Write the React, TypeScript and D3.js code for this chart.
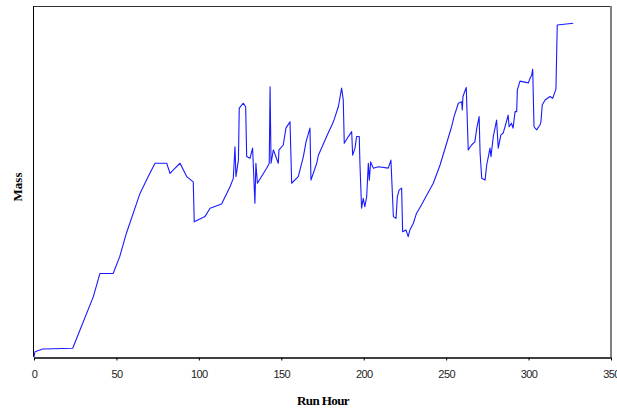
import * as d3 from "d3";
import { useEffect, useRef } from "react";

// run hours and mass readings (mass in relative units, 0..100)
const hours = [
  0, 0.6, 5.3, 23.5, 27.9, 36, 40, 48, 52, 56, 64.3, 69.3, 73.4, 80.5, 82.5, 84.5, 88.6, 92.6, 96.6,
  97.2, 103.7, 106.8, 113.8, 118.9, 120.9, 121.9, 122.5, 124, 124.5, 127, 128.4, 129, 131, 132.6,
  134, 134.6, 135.5, 141.1, 142.7, 143.2, 143.8, 145.2, 148.2, 148.6, 151.2, 152.8, 155.3, 156.3,
  160.3, 163.4, 165, 167.4, 168, 171.5, 172.5, 177.5, 181.6, 184.6, 186.6, 187.6, 188.2, 190.7,
  192.7, 193.3, 194.7, 195.7, 197.3, 197.7, 198.7, 199.7, 200.7, 201.8, 202.8, 203.4, 204.2, 205.8,
  208.8, 214.9, 216.5, 218, 219.6, 220.4, 221.5, 223, 223.6, 225.6, 227, 228, 230.1, 232, 235,
  237.2, 242.2, 246.3, 250.3, 253.3, 254.8, 257.4, 259.4, 259.8, 260.2, 262.2, 263.4, 265.4, 267.4,
  268.6, 270, 270.6, 271.6, 273.6, 274.6, 275.6, 276.6, 277.2, 278.6, 280.6, 281.6, 283.2, 284.6,
  286.3, 287.6, 288.2, 289.6, 290.6, 291.8, 292.8, 293.2, 294.8, 299.9, 300.9, 301.9, 302.5, 303.3,
  304.9, 306.9, 307.5, 308.3, 310, 313, 314.6, 316.6, 317.4, 327.1,
];
const mass = [
  0, 1.5, 2.3, 2.5, 7.7, 17.2, 23.8, 23.8, 28.6, 35.2, 46.6, 51.4, 55.2, 55.2, 52.3, 53.3, 55.2, 51.4, 49.9,
  38.5, 40.0, 42.4, 43.6, 48.5, 50.9, 59.9, 51.4, 56.1, 70.9, 72.3, 71.3, 57.1, 56.6, 59.5,
  43.8, 55.2, 49.5, 53.8, 55.2, 77.0, 55.2, 59.0, 55.2, 59.0, 60.4, 65.2, 67.0, 49.5,
  51.4, 57.1, 61.3, 65.2, 50.4, 55.2, 57.5, 62.8, 67.0, 71.3, 76.6, 73.2, 60.9, 62.8,
  64.2, 57.5, 59.5, 62.8, 62.8, 55.2, 42.4, 45.2, 42.8, 45.7, 55.2, 50.4, 55.6, 53.8,
  54.2, 53.8, 56.1, 40.0, 39.5, 45.7, 47.6, 48.1, 35.7, 36.2, 34.3, 36.2, 38.1, 40.9, 43.3,
  45.2, 49.5, 54.7, 60.9, 65.6, 68.5, 72.3, 72.7, 70.4, 74.2, 76.8, 59.0, 60.4, 61.3,
  65.2, 68.5, 58.0, 50.9, 50.4, 54.7, 57.1, 59.5, 57.1, 62.8, 67.5, 59.5, 63.3, 63.8,
  66.6, 68.9, 65.6, 66.6, 65.2, 69.9, 69.9, 76.1, 78.6, 78.1, 79.4, 80.3, 82.0, 65.6,
  64.7, 66.1, 67.0, 71.8, 73.2, 74.2, 73.7, 76.3, 94.6, 95.1,
];
const xTicks = [0, 50, 100, 150, 200, 250, 300, 350];

export default function App() {
  const ref = useRef<SVGSVGElement>(null);

  useEffect(() => {
    const width = 617,
      height = 410;
    const margin = { top: 6, right: 6, bottom: 53, left: 34 };

    const svg = d3.select(ref.current);
    svg.selectAll("*").remove();

    const x = d3.scaleLinear().domain([0, 350]).range([margin.left, width - margin.right]);
    const y = d3.scaleLinear().domain([0, 100]).range([height - margin.bottom, margin.top]);

    // plot frame: top dark line, right grey shadow
    svg.append("line")
      .attr("x1", margin.left).attr("x2", width - margin.right)
      .attr("y1", margin.top + 0.5).attr("y2", margin.top + 0.5)
      .attr("stroke", "#333").attr("stroke-width", 1);
    svg.append("line")
      .attr("x1", width - margin.right).attr("x2", width - margin.right)
      .attr("y1", margin.top).attr("y2", height - margin.bottom)
      .attr("stroke", "#808080").attr("stroke-width", 2);

    // left axis, no ticks
    svg.append("line")
      .attr("x1", margin.left - 0.5).attr("x2", margin.left - 0.5)
      .attr("y1", margin.top).attr("y2", height - margin.bottom)
      .attr("stroke", "#000").attr("stroke-width", 1);

    // x axis (the 350 label runs off the right edge, as in the original)
    const xAxis = svg.append("g")
      .attr("transform", `translate(0,${height - margin.bottom + 0.5})`)
      .call(d3.axisBottom(x).tickValues(xTicks).tickSize(3).tickSizeOuter(0).tickPadding(10));
    xAxis.select(".domain").attr("stroke", "#000").attr("stroke-width", 1.3);
    xAxis.selectAll(".tick line").attr("stroke", "#000");
    xAxis.selectAll("text")
      .attr("font-family", "'Liberation Sans', Arial, sans-serif")
      .attr("font-size", 11)
      .attr("letter-spacing", -0.6)
      .attr("fill", "#222");

    const line = d3.line<number>()
      .x((_, i) => x(hours[i]))
      .y((d) => y(d));

    svg.append("path")
      .datum(mass)
      .attr("fill", "none")
      .attr("stroke", "#1a1aff")
      .attr("stroke-width", 1.1)
      .attr("stroke-linejoin", "round")
      .attr("d", line);

    svg.append("text")
      .attr("x", 323).attr("y", 405)
      .attr("text-anchor", "middle")
      .attr("font-family", "'Liberation Serif', 'Times New Roman', serif")
      .attr("font-weight", "bold")
      .attr("font-size", 13)
      .attr("letter-spacing", -0.6)
      .text("Run Hour");

    svg.append("text")
      .attr("transform", "translate(22,187) rotate(-90)")
      .attr("text-anchor", "middle")
      .attr("font-family", "'Liberation Serif', 'Times New Roman', serif")
      .attr("font-weight", "bold")
      .attr("font-size", 13)
      .attr("letter-spacing", 0)
      .text("Mass");
  }, []);

  return (
    <svg
      ref={ref}
      width={617}
      height={410}
      style={{ position: "absolute", left: 0, top: 0, background: "#fff" }}
    ></svg>
  );
}
